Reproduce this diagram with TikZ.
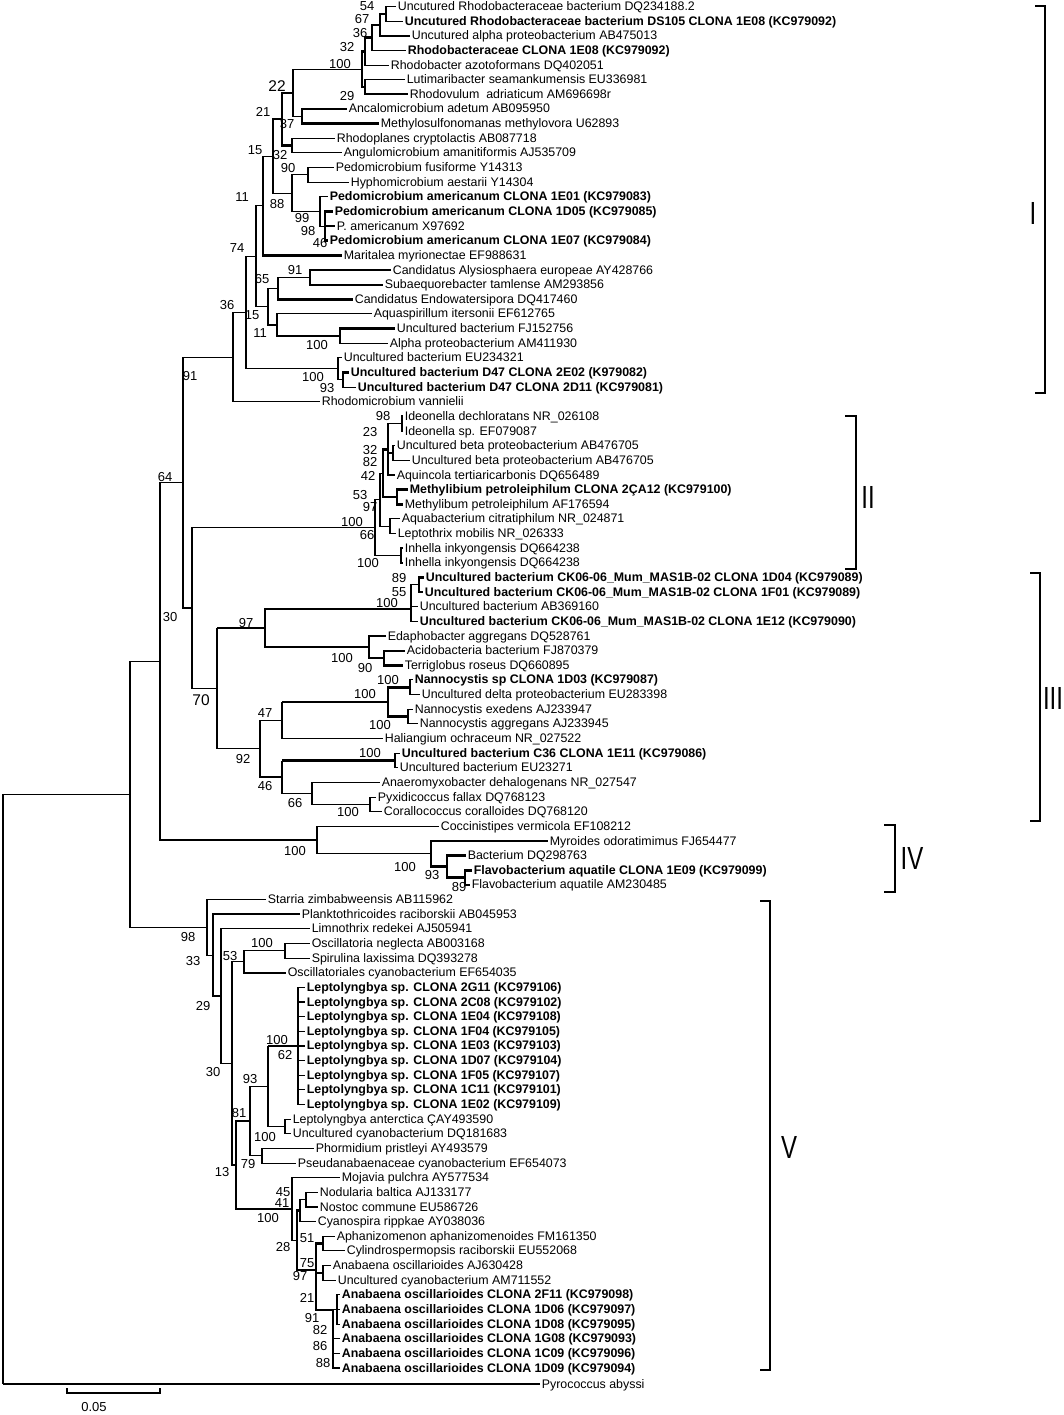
\documentclass[tikz,border=0pt]{standalone}
\usepackage{fontspec}
\setmainfont{Liberation Sans}
\newcommand\lblf{\fontsize{12.4}{14}\selectfont}
\newcommand\bsf{\fontsize{13}{14}\selectfont}
\newcommand\bsbig{\fontsize{15.5}{16}\selectfont}
\newcommand\EI[2]{\draw[br] (#1) |- (#2);}
\newcommand\EL[2]{\draw[br] (#1) |- (#2.west);}
\newcommand\TI[2]{\draw[tk] (#1) |- (#2);}
\newcommand\TL[2]{\draw[tk] (#1) |- (#2.west);}
\newcommand\HI[2]{\draw[br] (#1) -- (#1|-#2); \draw[tk] (#1|-#2) -- (#2);}
\begin{document}
\begin{tikzpicture}[x=1pt,y=-1pt,
  br/.style={line width=1.15pt},
  tk/.style={line width=2.4pt},
  lf/.style={anchor=west,inner xsep=1.6pt,inner ysep=0pt,font=\lblf,text height=8.8pt,text depth=0.8pt},
  lb/.style={lf,font=\lblf\bfseries},
  bs/.style={font=\bsf,inner sep=0pt},
  bb/.style={font=\bsbig,inner sep=0pt},
  brk/.style={line width=1.6pt},
  rn/.style={font=\fontsize{32}{32}\selectfont,inner sep=0pt}]
\useasboundingbox (0,0) rectangle (1064,1415);
\fill[white] (0,0) rectangle (1064,1415);
% ---------- leaves clade I
\node[lf] (L1) at (396,6.5) {Uncutured Rhodobacteraceae bacterium DQ234188.2};
\node[lb] (L2) at (403,21.1) {Uncutured Rhodobacteraceae bacterium DS105 CLONA 1E08 (KC979092)};
\node[lf] (L3) at (410,35.8) {Uncutured alpha proteobacterium AB475013};
\node[lb] (L4) at (406,50.4) {Rhodobacteraceae CLONA 1E08 (KC979092)};
\node[lf] (L5) at (389,65.1) {Rhodobacter azotoformans DQ402051};
\node[lf] (L6) at (405,79.7) {Lutimaribacter seamankumensis EU336981};
\node[lf] (L7) at (408,94.3) {Rhodovulum\ \ adriaticum AM696698r};
\node[lf] (L8) at (347,109) {Ancalomicrobium adetum AB095950};
\node[lf] (L9) at (379,123.6) {Methylosulfonomanas methylovora U62893};
\node[lf] (L10) at (335,138.3) {Rhodoplanes cryptolactis AB087718};
\node[lf] (L11) at (342,152.9) {Angulomicrobium amanitiformis AJ535709};
\node[lf] (L12) at (334,167.5) {Pedomicrobium fusiforme Y14313};
\node[lf] (L13) at (349,182.2) {Hyphomicrobium aestarii Y14304};
\node[lb] (L14) at (328,196.8) {Pedomicrobium americanum CLONA 1E01 (KC979083)};
\node[lb] (L15) at (333,211.5) {Pedomicrobium americanum CLONA 1D05 (KC979085)};
\node[lf] (L16) at (335,226.1) {P. americanum X97692};
\node[lb] (L17) at (328,240.7) {Pedomicrobium americanum CLONA 1E07 (KC979084)};
\node[lf] (L18) at (342,255.4) {Maritalea myrionectae EF988631};
\node[lf] (L19) at (391,270) {Candidatus Alysiosphaera europeae AY428766};
\node[lf] (L20) at (383,284.7) {Subaequorebacter tamlense AM293856};
\node[lf] (L21) at (353,299.3) {Candidatus Endowatersipora DQ417460};
\node[lf] (L22) at (372,313.9) {Aquaspirillum itersonii EF612765};
\node[lf] (L23) at (395,328.6) {Uncultured bacterium FJ152756};
\node[lf] (L24) at (388,343.2) {Alpha proteobacterium AM411930};
\node[lf] (L25) at (342,357.9) {Uncultured bacterium EU234321};
\node[lb] (L26) at (349,372.5) {Uncultured bacterium D47 CLONA 2E02 (K979082)};
\node[lb] (L27) at (356,387.1) {Uncultured bacterium D47 CLONA 2D11 (KC979081)};
\node[lf] (L28) at (320,401.8) {Rhodomicrobium vannielii};
% ---------- clade II
\node[lf] (L29) at (403,416.4) {Ideonella dechloratans NR\_026108};
\node[lf] (L30) at (403,431.1) {Ideonella sp. EF079087};
\node[lf] (L31) at (395,445.7) {Uncultured beta proteobacterium AB476705};
\node[lf] (L32) at (410,460.3) {Uncultured beta proteobacterium AB476705};
\node[lf] (L33) at (395,475) {Aquincola tertiaricarbonis DQ656489};
\node[lb] (L34) at (408,489.6) {Methylibium petroleiphilum CLONA 2ÇA12 (KC979100)};
\node[lf] (L35) at (403,504.3) {Methylibum petroleiphilum AF176594};
\node[lf] (L36) at (400,518.9) {Aquabacterium citratiphilum NR\_024871};
\node[lf] (L37) at (396,533.5) {Leptothrix mobilis NR\_026333};
\node[lf] (L38) at (403,548.2) {Inhella inkyongensis DQ664238};
\node[lf] (L39) at (403,562.8) {Inhella inkyongensis DQ664238};
% ---------- clade III
\node[lb] (L40) at (424,577.5) {Uncultured bacterium CK06-06\_Mum\_MAS1B-02 CLONA 1D04 (KC979089)};
\node[lb] (L41) at (423,592.1) {Uncultured bacterium CK06-06\_Mum\_MAS1B-02 CLONA 1F01 (KC979089)};
\node[lf] (L42) at (418,606.7) {Uncultured bacterium AB369160};
\node[lb] (L43) at (418,621.4) {Uncultured bacterium CK06-06\_Mum\_MAS1B-02 CLONA 1E12 (KC979090)};
\node[lf] (L44) at (386,636) {Edaphobacter aggregans DQ528761};
\node[lf] (L45) at (405,650.7) {Acidobacteria bacterium FJ870379};
\node[lf] (L46) at (403,665.3) {Terriglobus roseus DQ660895};
\node[lb] (L47) at (413,679.9) {Nannocystis sp CLONA 1D03 (KC979087)};
\node[lf] (L48) at (420,694.6) {Uncultured delta proteobacterium EU283398};
\node[lf] (L49) at (413,709.2) {Nannocystis exedens AJ233947};
\node[lf] (L50) at (418,723.9) {Nannocystis aggregans AJ233945};
\node[lf] (L51) at (383,738.5) {Haliangium ochraceum NR\_027522};
\node[lb] (L52) at (400,753.1) {Uncultured bacterium C36 CLONA 1E11 (KC979086)};
\node[lf] (L53) at (398,767.8) {Uncultured bacterium EU23271};
\node[lf] (L54) at (380,782.4) {Anaeromyxobacter dehalogenans NR\_027547};
\node[lf] (L55) at (376,797.1) {Pyxidicoccus fallax DQ768123};
\node[lf] (L56) at (382,811.7) {Corallococcus coralloides DQ768120};
% ---------- clade IV
\node[lf] (L57) at (439,826.3) {Coccinistipes vermicola EF108212};
\node[lf] (L58) at (548,841) {Myroides odoratimimus FJ654477};
\node[lf] (L59) at (466,855.6) {Bacterium DQ298763};
\node[lb] (L60) at (472,870.3) {Flavobacterium aquatile CLONA 1E09 (KC979099)};
\node[lf] (L61) at (470,884.9) {Flavobacterium aquatile AM230485};
% ---------- clade V
\node[lf] (L62) at (266,899.5) {Starria zimbabweensis AB115962};
\node[lf] (L63) at (300,914.2) {Planktothricoides raciborskii AB045953};
\node[lf] (L64) at (310,928.8) {Limnothrix redekei AJ505941};
\node[lf] (L65) at (310,943.5) {Oscillatoria neglecta AB003168};
\node[lf] (L66) at (310,958.1) {Spirulina laxissima DQ393278};
\node[lf] (L67) at (286,972.7) {Oscillatoriales cyanobacterium EF654035};
\foreach \c/\k [count=\i] in {2G11/KC979106,2C08/KC979102,1E04/KC979108,1F04/KC979105,1E03/KC979103,1D07/KC979104,1F05/KC979107,1C11/KC979101,1E02/KC979109}
  \node[lb] (LL\i) at (305,{987.4+(\i-1)*14.64}) {Leptolyngbya sp. CLONA \c\ (\k)};
\node[lf] (L77) at (291,1119.1) {Leptolyngbya anterctica ÇAY493590};
\node[lf] (L78) at (291,1133.8) {Uncultured cyanobacterium DQ181683};
\node[lf] (L79) at (314,1148.4) {Phormidium pristleyi AY493579};
\node[lf] (L80) at (296,1163.1) {Pseudanabaenaceae cyanobacterium EF654073};
\node[lf] (L81) at (340,1177.7) {Mojavia pulchra AY577534};
\node[lf] (L82) at (318,1192.3) {Nodularia baltica AJ133177};
\node[lf] (L83) at (318,1207) {Nostoc commune EU586726};
\node[lf] (L84) at (316,1221.6) {Cyanospira rippkae AY038036};
\node[lf] (L85) at (335,1236.3) {Aphanizomenon aphanizomenoides FM161350};
\node[lf] (L86) at (345,1250.9) {Cylindrospermopsis raciborskii EU552068};
\node[lf] (L87) at (331,1265.5) {Anabaena oscillarioides AJ630428};
\node[lf] (L88) at (336,1280.2) {Uncultured cyanobacterium AM711552};
\foreach \c/\k [count=\i] in {2F11/KC979098,1D06/KC979097,1D08/KC979095,1G08/KC979093,1C09/KC979096,1D09/KC979094}
  \node[lb] (LA\i) at (340,{1294.8+(\i-1)*14.64}) {Anabaena oscillarioides CLONA \c\ (\k)};
\node[lf] (L95) at (540,1384) {Pyrococcus abyssi};
% ---------- internal nodes
\coordinate (a54) at (386,13.8);  \coordinate (a67) at (380,25);
\coordinate (a36) at (372,37.6);  \coordinate (a32) at (365,51.4);
\coordinate (a29) at (365,87);    \coordinate (a100) at (362,69.2);
\coordinate (a37) at (302,116.3); \coordinate (a22) at (293,92.8);
\coordinate (a32b) at (292,145.6);\coordinate (a21) at (282,119.2);
\coordinate (a90) at (308,174.9); \coordinate (a98) at (325,226.1);
\coordinate (a99) at (320,211.5); \coordinate (a88) at (292,193.2);
\coordinate (a15) at (273,156.2); \coordinate (a11) at (263,205.8);
\coordinate (a91b) at (310,277.4);\coordinate (a65) at (278,288.3);
\coordinate (a100c) at (340,335.9);\coordinate (a11b) at (277,324.9);
\coordinate (a15b) at (268,306.6);\coordinate (a74) at (256,256.2);
\coordinate (a93) at (343,379.8); \coordinate (a100d) at (338,368.9);
\coordinate (a36b) at (246,312.5);\coordinate (a91) at (233,357.2);
\coordinate (b98) at (402,423.8); \coordinate (b82) at (393,453);
\coordinate (b42) at (388,449.4); \coordinate (bMeth) at (397,497);
\coordinate (b53) at (383,473.2); \coordinate (bAL) at (390,526.2);
\coordinate (b97) at (380,499.7); \coordinate (bInh) at (401,555.5);
\coordinate (b66) at (375,527.6);
\coordinate (c89) at (419,584.8); \coordinate (c55) at (411,609);
\coordinate (c90) at (384,658);   \coordinate (c100e) at (369,647);
\coordinate (c97) at (265,628);   \coordinate (c100f) at (410,687.3);
\coordinate (c100g) at (408,716.5);\coordinate (c100h) at (388,701.9);
\coordinate (c47) at (282,720.2); \coordinate (c100i) at (395,760.5);
\coordinate (c100j) at (370,804.4);\coordinate (c66) at (312,793.4);
\coordinate (c46) at (282,777);   \coordinate (c92) at (260,748.6);
\coordinate (c70) at (217,688.3); \coordinate (a192) at (192,608);
\coordinate (a64) at (183,482.6);
\coordinate (d89) at (465,877.6); \coordinate (d93) at (447,866.6);
\coordinate (d100l) at (431,853.8);\coordinate (d100k) at (317,840);
\coordinate (a160) at (160,661.3);
\coordinate (e100m) at (285,950.8);\coordinate (e53) at (244,961.8);
\coordinate (e100o) at (298,1045.9);\coordinate (e100p) at (285,1126.5);
\coordinate (e93) at (268,1086.2); \coordinate (e79) at (262,1155.8);
\coordinate (e81) at (250,1121);   \coordinate (e45) at (306,1199.7);
\coordinate (e41) at (300,1210.6); \coordinate (eAC) at (323,1243.6);
\coordinate (eAU) at (323,1272.9); \coordinate (eClA) at (337,1309.5);
\coordinate (eClB) at (333,1310);  \coordinate (e51) at (316,1270);
\coordinate (e28) at (297,1240.3); \coordinate (e100n) at (292,1209);
\coordinate (e13) at (236,1165);   \coordinate (e30) at (232,1063.4);
\coordinate (e29) at (221,996.1);  \coordinate (e33) at (213,955.2);
\coordinate (e98) at (207,927.3);  \coordinate (a130) at (130,794.3);
\coordinate (root) at (3,1089);
% ---------- edges clade I
\EL{a54}{L1} \EL{a54}{L2}
\TI{a67}{a54} \TL{a67}{L3}
\TI{a36}{a67} \EL{a36}{L4}
\TI{a32}{a36} \EL{a32}{L5}
\EL{a29}{L6} \TL{a29}{L7}
\TI{a100}{a32} \TI{a100}{a29}
\EL{a37}{L8} \TL{a37}{L9}
\EI{a22}{a100} \EI{a22}{a37}
\EL{a32b}{L10} \EL{a32b}{L11}
\TI{a21}{a22} \TI{a21}{a32b}
\EL{a90}{L12} \EL{a90}{L13}
\TL{a98}{L15} \TL{a98}{L16} \TL{a98}{L17}
\EL{a99}{L14} \EI{a99}{a98}
\EI{a88}{a90} \EI{a88}{a99}
\TI{a15}{a21} \EI{a15}{a88}
\EI{a11}{a15} \TL{a11}{L18}
\EL{a91b}{L19} \TL{a91b}{L20}
\EI{a65}{a91b} \TL{a65}{L21}
\TL{a100c}{L23} \EL{a100c}{L24}
\EL{a11b}{L22} \TI{a11b}{a100c}
\EI{a15b}{a65} \TI{a15b}{a11b}
\EI{a74}{a11} \EI{a74}{a15b}
\TL{a93}{L26} \EL{a93}{L27}
\EL{a100d}{L25} \EI{a100d}{a93}
\EI{a36b}{a74} \EI{a36b}{a100d}
\EI{a91}{a36b} \EL{a91}{L28}
\EI{a64}{a91} \EI{a64}{a192}
% ---------- edges clade II
\TL{b98}{L29} \TL{b98}{L30}
\EL{b82}{L31} \EL{b82}{L32}
\EI{b42}{b98} \EI{b42}{b82} \EL{b42}{L33}
\TL{bMeth}{L34} \TL{bMeth}{L35}
\TI{b53}{b42} \TI{b53}{bMeth}
\EL{bAL}{L36} \EL{bAL}{L37}
\EI{b97}{b53} \EI{b97}{bAL}
\TL{bInh}{L38} \TL{bInh}{L39}
\EI{b66}{b97} \EI{b66}{bInh}
% ---------- edges clade III
\TL{c89}{L40} \TL{c89}{L41}
\EI{c55}{c89} \EL{c55}{L42} \EL{c55}{L43}
\TL{c90}{L45} \TL{c90}{L46}
\EL{c100e}{L44} \EI{c100e}{c90}
\EI{c97}{c55} \EI{c97}{c100e}
\EL{c100f}{L47} \EL{c100f}{L48}
\EL{c100g}{L49} \EL{c100g}{L50}
\TI{c100h}{c100f} \TI{c100h}{c100g}
\HI{c47}{c100h} \EL{c47}{L51}
\EL{c100i}{L52} \EL{c100i}{L53}
\EL{c100j}{L55} \EL{c100j}{L56}
\EL{c66}{L54} \EI{c66}{c100j}
\HI{c46}{c100i} \EI{c46}{c66}
\EI{c92}{c47} \EI{c92}{c46}
\HI{c70}{c97} \EI{c70}{c92}
\draw[tk] (a192|-b66) -- (a192|-c70);
\EI{a192}{b66} \EI{a192}{c70}
% ---------- edges clade IV
\TL{d89}{L60} \TL{d89}{L61}
\TL{d93}{L59} \TI{d93}{d89}
\EL{d100l}{L58} \TI{d100l}{d93}
\EL{d100k}{L57} \EI{d100k}{d100l}
\EI{a160}{a64} \EI{a160}{d100k}
% ---------- edges clade V
\EL{e100m}{L65} \EL{e100m}{L66}
\EI{e53}{e100m} \TL{e53}{L67}
\foreach \i in {1,2,3,4,6,7,8,9} {\EL{e100o}{LL\i}}
\HI{e93}{LL5.west}
\EL{e100p}{L77} \EL{e100p}{L78}
\EI{e93}{e100p}
\EL{e79}{L79} \EL{e79}{L80}
\EI{e81}{e93} \EI{e81}{e79}
\EL{e45}{L82} \EL{e45}{L83}
\EI{e41}{e45} \EL{e41}{L84}
\EL{eAC}{L85} \EL{eAC}{L86}
\EL{eAU}{L87} \EL{eAU}{L88}
\EL{eClA}{LA1} \EL{eClA}{LA2} \EL{eClA}{LA3}
\EI{eClB}{eClA} \EL{eClB}{LA4} \EL{eClB}{LA5} \EL{eClB}{LA6}
\TI{e51}{eAC} \TI{e51}{eAU} \TI{e51}{eClB}
\TI{e28}{e41} \TI{e28}{e51}
\EL{e100n}{L81} \EI{e100n}{e28}
\EI{e13}{e81} \EI{e13}{e100n}
\EI{e30}{e53} \EI{e30}{e13}
\EL{e29}{L64} \EI{e29}{e30}
\TL{e33}{L63} \TI{e33}{e29}
\EL{e98}{L62} \EI{e98}{e33}
\EI{a130}{a160} \EI{a130}{e98}
\EI{root}{a130}
\draw[br] (root) -- (root|-L95.west);
\draw[tk] (root|-L95.west) -- (L95.west);
% ---------- bootstrap values
\node[bs] (s1) at (367,6.5) {54};   \node[bs] (s2) at (362,19) {67};
\node[bs] (s3) at (360,33) {36};    \node[bs] (s4) at (347,47) {32};
\node[bs] (s5) at (340,64) {100};   \node[bs] (s6) at (347,96) {29};
\node[bb] (s7) at (277,86) {22};    \node[bs] (s8) at (263,112) {21};
\node[bs] (s9) at (287,124) {37};   \node[bs] (s10) at (280,155) {32};
\node[bs] (s11) at (255,150) {15};  \node[bs] (s12) at (288,168) {90};
\node[bs] (s13) at (242,197) {11};  \node[bs] (s14) at (277,204) {88};
\node[bs] (s15) at (302,218) {99};  \node[bs] (s16) at (308,231) {98};
\node[bs] (s17) at (320,243) {46};  \node[bs] (s18) at (237,248) {74};
\node[bs] (s19) at (295,270) {91};  \node[bs] (s20) at (262,279) {65};
\node[bs] (s21) at (252,315) {15};  \node[bs] (s22) at (260,333) {11};
\node[bs] (s23) at (317,345) {100}; \node[bs] (s24) at (227,305) {36};
\node[bs] (s25) at (313,377) {100}; \node[bs] (s26) at (327,388) {93};
\node[bs] (s27) at (190,376) {91};  \node[bs] (s28) at (165,477) {64};
\node[bs] (s29) at (383,416) {98};  \node[bs] (s30) at (370,432) {23};
\node[bs] (s31) at (370,450) {32};  \node[bs] (s32) at (370,462) {82};
\node[bs] (s33) at (368,476) {42};  \node[bs] (s34) at (360,495) {53};
\node[bs] (s35) at (370,507) {97};  \node[bs] (s36) at (352,522) {100};
\node[bs] (s37) at (367,535) {66};  \node[bs] (s38) at (368,563) {100};
\node[bs] (s39) at (399,578) {89};  \node[bs] (s40) at (399,592) {55};
\node[bs] (s41) at (387,603) {100}; \node[bs] (s42) at (246,623) {97};
\node[bs] (s43) at (342,658) {100}; \node[bs] (s44) at (365,668) {90};
\node[bs] (s45) at (388,680) {100}; \node[bs] (s46) at (365,694) {100};
\node[bs] (s47) at (380,725) {100}; \node[bs] (s48) at (265,713) {47};
\node[bs] (s49) at (243,759) {92};  \node[bs] (s50) at (265,786) {46};
\node[bs] (s51) at (295,803) {66};  \node[bs] (s52) at (370,753) {100};
\node[bs] (s53) at (348,812) {100}; \node[bb] (s54) at (201,700) {70};
\node[bs] (s55) at (170,617) {30};
\node[bs] (s56) at (295,851) {100}; \node[bs] (s57) at (405,867) {100};
\node[bs] (s58) at (432,875) {93};  \node[bs] (s59) at (459,887) {89};
\node[bs] (s60) at (188,937) {98};  \node[bs] (s61) at (193,961) {33};
\node[bs] (s62) at (203,1006) {29}; \node[bs] (s63) at (230,956) {53};
\node[bs] (s64) at (262,943) {100}; \node[bs] (s65) at (213,1072) {30};
\node[bs] (s66) at (277,1040) {100};\node[bs] (s67) at (285,1055) {62};
\node[bs] (s68) at (250,1079) {93}; \node[bs] (s69) at (239,1113) {81};
\node[bs] (s70) at (265,1137) {100};\node[bs] (s71) at (248,1164) {79};
\node[bs] (s72) at (222,1172) {13}; \node[bs] (s73) at (283,1192) {45};
\node[bs] (s74) at (282,1203) {41}; \node[bs] (s75) at (268,1218) {100};
\node[bs] (s76) at (307,1238) {51}; \node[bs] (s77) at (283,1247) {28};
\node[bs] (s78) at (307,1263) {75}; \node[bs] (s79) at (300,1276) {97};
\node[bs] (s80) at (307,1298) {21}; \node[bs] (s81) at (312,1318) {91};
\node[bs] (s82) at (320,1330) {82}; \node[bs] (s83) at (320,1346) {86};
\node[bs] (s84) at (323,1363) {88};
% ---------- clade brackets
\draw[brk] (1035,6) -- (1045,6) -- (1045,393) -- (1035,393);
\node[rn] (rI) at (1033,213) {\scalebox{0.75}[1]{I}};
\draw[brk] (845,416) -- (856,416) -- (856,569) -- (845,569);
\node[rn] (rII) at (868,497) {\scalebox{0.75}[1]{II}};
\draw[brk] (1030,573) -- (1040,573) -- (1040,821) -- (1030,821);
\node[rn] (rIII) at (1053,698) {\scalebox{0.75}[1]{III}};
\draw[brk] (884,825) -- (895,825) -- (895,892) -- (884,892);
\node[rn] (rIV) at (912,858) {\scalebox{0.75}[1]{IV}};
\draw[brk] (760,901) -- (770,901) -- (770,1370) -- (760,1370);
\node[rn] (rV) at (789,1147) {\scalebox{0.75}[1]{V}};
% ---------- scale bar
\draw[br] (67,1388) -- (67,1393) -- (160,1393) -- (160,1388);
\node[bs] (sc) at (94,1407) {0.05};
\end{tikzpicture}
\end{document}
